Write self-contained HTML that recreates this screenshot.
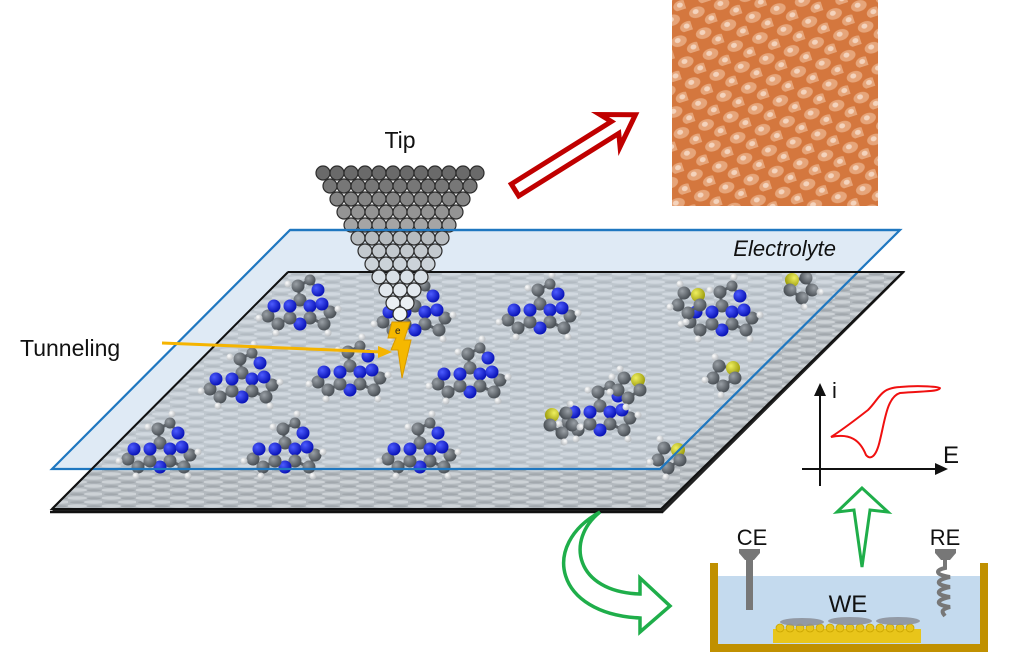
<!DOCTYPE html>
<html><head><meta charset="utf-8"><style>
html,body{margin:0;padding:0;background:#fff;}
svg{display:block;}
</style></head><body>
<svg width="1024" height="655" viewBox="0 0 1024 655" xmlns="http://www.w3.org/2000/svg" font-family="Liberation Sans, sans-serif">
<defs>
<pattern id="sub" width="34" height="8" patternUnits="userSpaceOnUse">
<rect width="34" height="8" fill="#b3b9be"/>
<ellipse cx="9" cy="2" rx="10" ry="1.8" fill="#cdd2d6"/>
<ellipse cx="26" cy="6" rx="10" ry="1.8" fill="#cdd2d6"/>
<ellipse cx="26" cy="2.3" rx="7" ry="1.1" fill="#a2a8ad"/>
<ellipse cx="9" cy="6.3" rx="7" ry="1.1" fill="#a2a8ad"/>
</pattern>
<pattern id="stm" width="26" height="22" patternUnits="userSpaceOnUse" patternTransform="rotate(-18)">
<rect width="26" height="22" fill="#d4773e"/>
<ellipse cx="9" cy="7" rx="8" ry="5.5" fill="#e6a57a"/>
<ellipse cx="8" cy="6" rx="3" ry="2.5" fill="#f4d3bc"/>
<ellipse cx="22" cy="18" rx="8" ry="5.5" fill="#e6a57a"/>
<ellipse cx="21" cy="17" rx="3" ry="2.5" fill="#f4d3bc"/>
</pattern>
<radialGradient id="gC" cx="35%" cy="35%" r="65%"><stop offset="0" stop-color="#9aa0a6"/><stop offset="1" stop-color="#4b5157"/></radialGradient>
<radialGradient id="gN" cx="35%" cy="35%" r="65%"><stop offset="0" stop-color="#4d5cff"/><stop offset="1" stop-color="#0a14b8"/></radialGradient>
<radialGradient id="gH" cx="35%" cy="35%" r="65%"><stop offset="0" stop-color="#ffffff"/><stop offset="1" stop-color="#b8bcc0"/></radialGradient>
<radialGradient id="gS" cx="35%" cy="35%" r="65%"><stop offset="0" stop-color="#f0f060"/><stop offset="1" stop-color="#a0a010"/></radialGradient>
<g id="mol">
<g stroke="#5a6066" stroke-width="3">
<line x1="-10" y1="-6" x2="0" y2="-12"/><line x1="0" y1="-12" x2="10" y2="-6"/><line x1="10" y1="-6" x2="10" y2="6"/>
<line x1="10" y1="6" x2="0" y2="12"/><line x1="0" y1="12" x2="-10" y2="6"/><line x1="-10" y1="6" x2="-10" y2="-6"/>
<line x1="0" y1="-12" x2="-2" y2="-26"/><line x1="-2" y1="-26" x2="10" y2="-32"/><line x1="10" y1="-32" x2="18" y2="-22"/>
<line x1="10" y1="6" x2="24" y2="12"/><line x1="24" y1="12" x2="30" y2="0"/><line x1="30" y1="0" x2="22" y2="-8"/>
<line x1="-10" y1="6" x2="-22" y2="12"/><line x1="-22" y1="12" x2="-32" y2="4"/><line x1="-32" y1="4" x2="-26" y2="-6"/>
</g>
<circle cx="0" cy="-12" r="6.5" fill="url(#gC)"/><circle cx="10" cy="-6" r="6.5" fill="url(#gN)"/><circle cx="10" cy="6" r="6.5" fill="url(#gC)"/>
<circle cx="0" cy="12" r="6.5" fill="url(#gN)"/><circle cx="-10" cy="6" r="6.5" fill="url(#gC)"/><circle cx="-10" cy="-6" r="6.5" fill="url(#gN)"/>
<circle cx="-2" cy="-26" r="6.5" fill="url(#gC)"/><circle cx="10" cy="-32" r="5.5" fill="url(#gC)"/><circle cx="18" cy="-22" r="6.5" fill="url(#gN)"/>
<circle cx="24" cy="12" r="6.5" fill="url(#gC)"/><circle cx="30" cy="0" r="6.5" fill="url(#gC)"/><circle cx="22" cy="-8" r="6.5" fill="url(#gN)"/>
<circle cx="-22" cy="12" r="6.5" fill="url(#gC)"/><circle cx="-32" cy="4" r="6.5" fill="url(#gC)"/><circle cx="-26" cy="-6" r="6.5" fill="url(#gN)"/>
<circle cx="-12" cy="-28" r="3.5" fill="url(#gH)"/><circle cx="12" cy="-41" r="3.5" fill="url(#gH)"/>
<circle cx="38" cy="-3" r="3.5" fill="url(#gH)"/><circle cx="28" cy="21" r="3.5" fill="url(#gH)"/>
<circle cx="-24" cy="21" r="3.5" fill="url(#gH)"/><circle cx="-41" cy="6" r="3.5" fill="url(#gH)"/>
</g>
<g id="thio">
<g stroke="#5a6066" stroke-width="3"><line x1="0" y1="0" x2="-12" y2="8"/><line x1="-12" y1="8" x2="-22" y2="0"/><line x1="-22" y1="0" x2="-16" y2="-12"/><line x1="-16" y1="-12" x2="-2" y2="-10"/><line x1="-2" y1="-10" x2="0" y2="0"/></g>
<circle cx="-12" cy="8" r="6.5" fill="url(#gC)"/><circle cx="-22" cy="0" r="6.5" fill="url(#gC)"/><circle cx="-16" cy="-12" r="6.5" fill="url(#gC)"/><circle cx="-2" cy="-10" r="7" fill="url(#gS)"/><circle cx="0" cy="0" r="6.5" fill="url(#gC)"/>
<circle cx="-30" cy="2" r="3.5" fill="url(#gH)"/><circle cx="-14" cy="17" r="3.5" fill="url(#gH)"/><circle cx="-20" cy="-21" r="3.5" fill="url(#gH)"/>
</g>
</defs>

<rect x="672" y="0" width="206" height="206" fill="url(#stm)"/>

<g transform="translate(515,190) rotate(-32)">
<polygon points="0,-7 118,-7 112,-19 142,0 112,19 118,7 0,7" fill="#fff" stroke="#c00000" stroke-width="5" stroke-linejoin="miter"/>
</g>

<polygon points="288,272 905,272 663,513 50,513" fill="#222"/>
<polygon points="288,272 903,272 661,509 52,509" fill="url(#sub)" stroke="#111" stroke-width="2"/>
<line x1="50" y1="512" x2="663" y2="512" stroke="#111" stroke-width="2.5"/>

<polygon points="290,230 900,230 660,469 52,469" fill="#dbe8f4" fill-opacity="0.3"/>

<use href="#mol" transform="translate(300,312)"/>
<use href="#mol" transform="translate(415,318)"/>
<use href="#mol" transform="translate(540,316)"/>
<use href="#mol" transform="translate(242,385)"/>
<use href="#mol" transform="translate(350,378)"/>
<use href="#mol" transform="translate(470,380)"/>
<use href="#mol" transform="translate(160,455)"/>
<use href="#mol" transform="translate(285,455)"/>
<use href="#mol" transform="translate(420,455)"/>
<use href="#mol" transform="translate(600,418)"/>
<use href="#mol" transform="translate(722,318)"/>
<use href="#thio" transform="translate(700,305)"/>
<use href="#thio" transform="translate(790,290) scale(-1,1)"/>
<use href="#thio" transform="translate(735,378)"/>
<use href="#thio" transform="translate(640,390)"/>
<use href="#thio" transform="translate(550,425) scale(-1,1)"/>
<use href="#thio" transform="translate(680,460)"/>

<polygon points="290,230 900,230 860,271 250,271" fill="#dfeaf5"/>
<polygon points="250,271 288,271 90,469 52,469" fill="#dfeaf5"/>
<polygon points="290,230 900,230 660,469 52,469" fill="none" stroke="#1f77c0" stroke-width="2.2"/>
<line x1="288" y1="272" x2="903" y2="272" stroke="#111" stroke-width="2"/>
<line x1="288" y1="272" x2="52" y2="509" stroke="#111" stroke-width="2"/>
<text x="836" y="256" font-size="22" font-style="italic" text-anchor="end" fill="#111">Electrolyte</text>

<text x="400" y="148" font-size="23" text-anchor="middle" fill="#111">Tip</text>
<g stroke="#2c2c2c" stroke-width="1.2">
<g fill="#6a6a6a"><circle cx="323" cy="173" r="7"/><circle cx="337" cy="173" r="7"/><circle cx="351" cy="173" r="7"/><circle cx="365" cy="173" r="7"/><circle cx="379" cy="173" r="7"/><circle cx="393" cy="173" r="7"/><circle cx="407" cy="173" r="7"/><circle cx="421" cy="173" r="7"/><circle cx="435" cy="173" r="7"/><circle cx="449" cy="173" r="7"/><circle cx="463" cy="173" r="7"/><circle cx="477" cy="173" r="7"/></g>
<g fill="#777"><circle cx="330" cy="186" r="7"/><circle cx="344" cy="186" r="7"/><circle cx="358" cy="186" r="7"/><circle cx="372" cy="186" r="7"/><circle cx="386" cy="186" r="7"/><circle cx="400" cy="186" r="7"/><circle cx="414" cy="186" r="7"/><circle cx="428" cy="186" r="7"/><circle cx="442" cy="186" r="7"/><circle cx="456" cy="186" r="7"/><circle cx="470" cy="186" r="7"/></g>
<g fill="#858585"><circle cx="337" cy="199" r="7"/><circle cx="351" cy="199" r="7"/><circle cx="365" cy="199" r="7"/><circle cx="379" cy="199" r="7"/><circle cx="393" cy="199" r="7"/><circle cx="407" cy="199" r="7"/><circle cx="421" cy="199" r="7"/><circle cx="435" cy="199" r="7"/><circle cx="449" cy="199" r="7"/><circle cx="463" cy="199" r="7"/></g>
<g fill="#949494"><circle cx="344" cy="212" r="7"/><circle cx="358" cy="212" r="7"/><circle cx="372" cy="212" r="7"/><circle cx="386" cy="212" r="7"/><circle cx="400" cy="212" r="7"/><circle cx="414" cy="212" r="7"/><circle cx="428" cy="212" r="7"/><circle cx="442" cy="212" r="7"/><circle cx="456" cy="212" r="7"/></g>
<g fill="#a5a5a5"><circle cx="351" cy="225" r="7"/><circle cx="365" cy="225" r="7"/><circle cx="379" cy="225" r="7"/><circle cx="393" cy="225" r="7"/><circle cx="407" cy="225" r="7"/><circle cx="421" cy="225" r="7"/><circle cx="435" cy="225" r="7"/><circle cx="449" cy="225" r="7"/></g>
<g fill="#b7bcc0"><circle cx="358" cy="238" r="7"/><circle cx="372" cy="238" r="7"/><circle cx="386" cy="238" r="7"/><circle cx="400" cy="238" r="7"/><circle cx="414" cy="238" r="7"/><circle cx="428" cy="238" r="7"/><circle cx="442" cy="238" r="7"/></g>
<g fill="#c3c9ce"><circle cx="365" cy="251" r="7"/><circle cx="379" cy="251" r="7"/><circle cx="393" cy="251" r="7"/><circle cx="407" cy="251" r="7"/><circle cx="421" cy="251" r="7"/><circle cx="435" cy="251" r="7"/></g>
<g fill="#ccd3d9"><circle cx="372" cy="264" r="7"/><circle cx="386" cy="264" r="7"/><circle cx="400" cy="264" r="7"/><circle cx="414" cy="264" r="7"/><circle cx="428" cy="264" r="7"/></g>
<g fill="#d9e0e6"><circle cx="379" cy="277" r="7"/><circle cx="393" cy="277" r="7"/><circle cx="407" cy="277" r="7"/><circle cx="421" cy="277" r="7"/></g>
<g fill="#e2e8ee"><circle cx="386" cy="290" r="7"/><circle cx="400" cy="290" r="7"/><circle cx="414" cy="290" r="7"/></g>
<g fill="#eaeff3"><circle cx="393" cy="303" r="7"/><circle cx="407" cy="303" r="7"/></g>
<g fill="#f0f4f7"><circle cx="400" cy="314" r="7"/></g>
</g>
<line x1="290" y1="230" x2="900" y2="230" stroke="#1f77c0" stroke-width="2.2"/>

<polygon points="392,322 410,322 404,340 411,340 402,378 398,350 391,350 396,338 388,338" fill="#f5b800" stroke="#d89a00" stroke-width="1"/>
<text x="395" y="334" font-size="10" fill="#222">e</text>

<text x="20" y="356" font-size="23" fill="#111">Tunneling</text>
<line x1="162" y1="343" x2="382" y2="352" stroke="#f5b400" stroke-width="3"/>
<polygon points="392,352 378,346 378,358" fill="#f5b400"/>

<path d="M600,512 C565,540 575,592 640,594 L640,578 L670,606 L640,632 L640,618 C555,614 540,545 600,512 Z" fill="#fff" stroke="#1fae4a" stroke-width="3.5" stroke-linejoin="miter"/>

<line x1="820" y1="486" x2="820" y2="392" stroke="#111" stroke-width="2"/>
<polygon points="820,383 814,396 826,396" fill="#111"/>
<line x1="802" y1="469" x2="940" y2="469" stroke="#111" stroke-width="2"/>
<polygon points="948,469 935,463 935,475" fill="#111"/>
<text x="832" y="398" font-size="22" fill="#111">i</text>
<text x="943" y="463" font-size="24" fill="#111">E</text>
<path d="M831,437 C845,428 855,420 868,410 C880,398 880,388 900,387 C920,385 940,387 940,388 C940,392 920,391 900,393 C887,397 885,420 880,440 C876,458 870,460 866,455 C860,440 850,433 831,437 Z" fill="none" stroke="#f01010" stroke-width="2"/>

<polygon points="862,488 837,512 854,510 862,567 870,510 888,512" fill="#fff" stroke="#1fae4a" stroke-width="3" stroke-linejoin="miter"/>

<rect x="716" y="576" width="266" height="68" fill="#c4daee"/>
<path d="M714,563 V648 H984 V563" fill="none" stroke="#c09000" stroke-width="8"/>
<rect x="773" y="629" width="148" height="14" fill="#e8c51a"/>
<g fill="#e8c51a" stroke="#c9a400" stroke-width="0.8">
<circle cx="780" cy="628" r="4"/><circle cx="790" cy="628" r="4"/><circle cx="800" cy="628" r="4"/><circle cx="810" cy="628" r="4"/><circle cx="820" cy="628" r="4"/><circle cx="830" cy="628" r="4"/><circle cx="840" cy="628" r="4"/><circle cx="850" cy="628" r="4"/><circle cx="860" cy="628" r="4"/><circle cx="870" cy="628" r="4"/><circle cx="880" cy="628" r="4"/><circle cx="890" cy="628" r="4"/><circle cx="900" cy="628" r="4"/><circle cx="910" cy="628" r="4"/>
</g>
<g fill="#8a8e98" opacity="0.85"><ellipse cx="802" cy="622" rx="22" ry="4"/><ellipse cx="850" cy="621" rx="22" ry="4"/><ellipse cx="898" cy="621" rx="22" ry="4"/></g>
<text x="752" y="545" font-size="22" text-anchor="middle" fill="#111">CE</text>
<text x="945" y="545" font-size="22" text-anchor="middle" fill="#111">RE</text>
<text x="848" y="612" font-size="24" text-anchor="middle" fill="#111">WE</text>
<polygon points="739,549 760,549 760,553 754,560 745,560 739,553" fill="#777"/>
<rect x="746" y="560" width="7" height="50" fill="#777"/>
<polygon points="935,549 956,549 956,553 950,560 941,560 935,553" fill="#777"/>
<path d="M945,560 V568 C935,570 935,575 950,577 C935,580 935,585 950,587 C935,590 935,595 950,597 C935,600 935,605 950,607 C940,610 942,612 945,616" fill="none" stroke="#777" stroke-width="4"/>
</svg>
</body></html>
